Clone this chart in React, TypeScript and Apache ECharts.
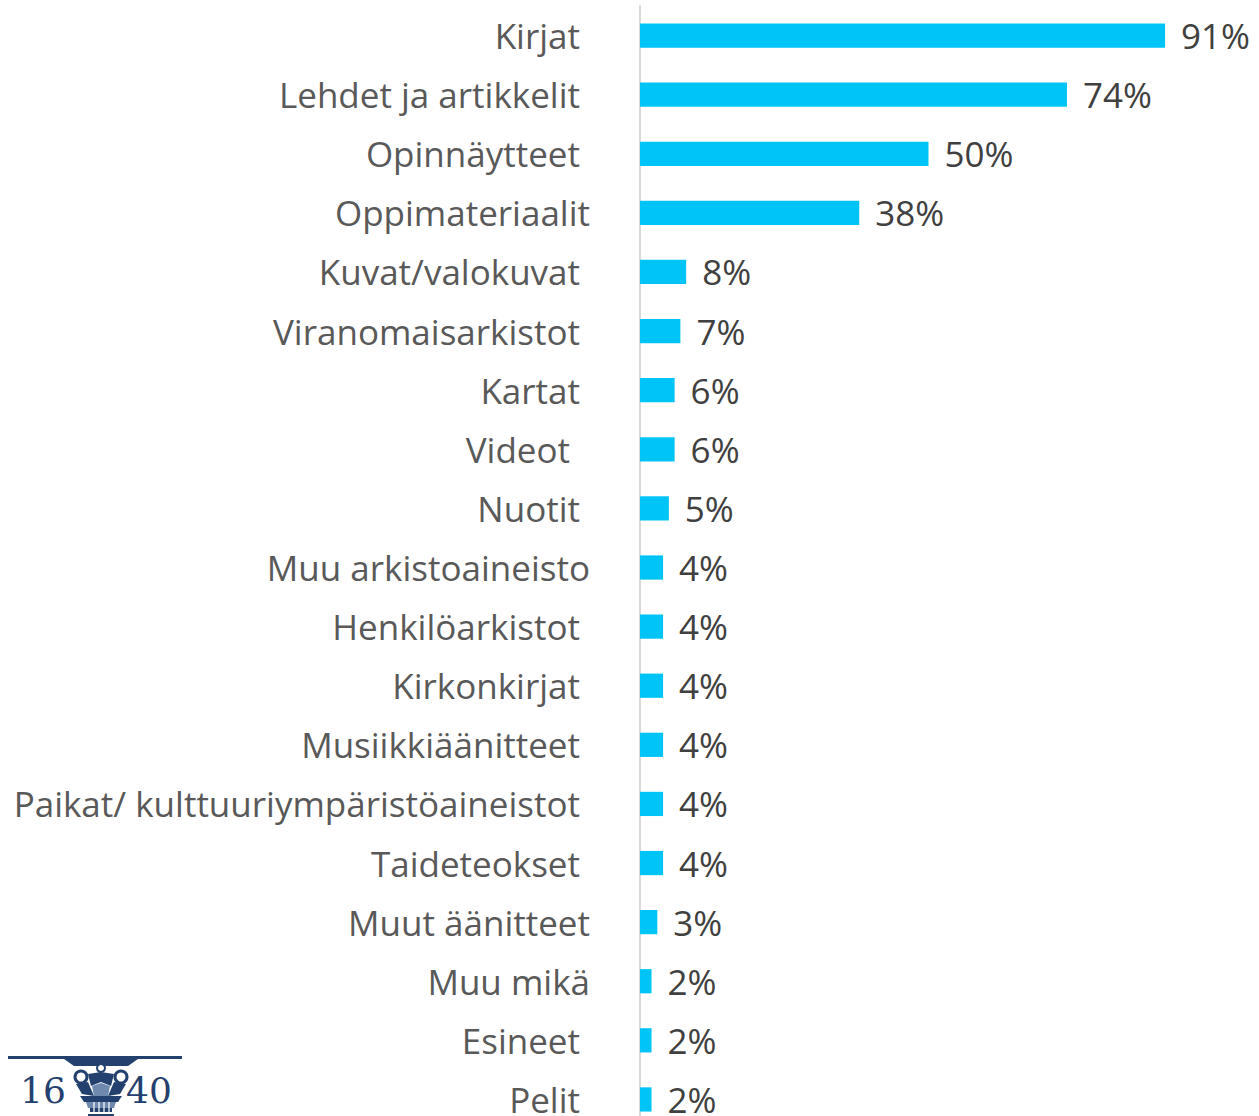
import React, { useEffect, useRef } from "react";
import * as echarts from "echarts";

const categories = [
  "Kirjat",
  "Lehdet ja artikkelit",
  "Opinnäytteet",
  "Oppimateriaalit",
  "Kuvat/valokuvat",
  "Viranomaisarkistot",
  "Kartat",
  "Videot",
  "Nuotit",
  "Muu arkistoaineisto",
  "Henkilöarkistot",
  "Kirkonkirjat",
  "Musiikkiäänitteet",
  "Paikat/ kulttuuriympäristöaineistot",
  "Taideteokset",
  "Muut äänitteet",
  "Muu mikä",
  "Esineet",
  "Pelit",
];
const values = [91, 74, 50, 38, 8, 7, 6, 6, 5, 4, 4, 4, 4, 4, 4, 3, 2, 2, 2];

// labels without the original's trailing space sit a little further right
const flushLabels = new Set(["Oppimateriaalit", "Muu arkistoaineisto", "Muut äänitteet", "Muu mikä"]);
const wideLabels = new Set(["Videot"]);

const FONT = "'Open Sans', 'Noto Sans', sans-serif";
const FS = 35;
const NAVY = "#23406e";
const LIGHT = "#6f88ae";

export default function App() {
  const ref = useRef<HTMLDivElement>(null);
  useEffect(() => {
    const chart = echarts.init(ref.current!, null, { renderer: "svg" });
    const rs = (pad: number) => ({ fontFamily: FONT, fontSize: FS, color: "#595959", padding: [0, pad, 0, 0] });
    chart.setOption({
      animation: false,
      backgroundColor: "#ffffff",
      grid: { left: 640, right: 42, top: 6, bottom: 11, containLabel: false },
      xAxis: { type: "value", min: 0, max: 100, show: false },
      yAxis: {
        type: "category",
        data: categories,
        inverse: true,
        axisLine: { show: true, lineStyle: { color: "#d9d9d9", width: 2 } },
        axisTick: { show: false },
        axisLabel: {
          margin: 50,
          fontFamily: FONT,
          fontSize: FS,
          color: "#595959",
          formatter: (v: string) =>
            flushLabels.has(v) ? `{a|${v}}` : wideLabels.has(v) ? `{c|${v}}` : `{b|${v}}`,
          rich: { a: rs(0), b: rs(10), c: rs(20) },
        },
      },
      series: [
        {
          type: "bar",
          data: values,
          barCategoryGap: "59%",
          itemStyle: { color: "#00c4f6" },
          label: {
            show: true,
            position: "right",
            distance: 16,
            formatter: "{c}%",
            fontFamily: FONT,
            fontSize: FS,
            color: "#404040",
          },
        },
      ],
      graphic: [
        {
          type: "group",
          left: 8,
          top: 1056,
          children: [
            { type: "rect", shape: { x: 0, y: 0, width: 174, height: 3 }, style: { fill: NAVY } },
            {
              type: "text",
              x: 12,
              y: 16,
              style: { text: "16", font: "36px 'DejaVu Serif', serif", fill: NAVY },
            },
            {
              type: "text",
              x: 118,
              y: 16,
              style: { text: "40", font: "36px 'DejaVu Serif', serif", fill: NAVY },
            },
            // capital abacus
            { type: "polygon", shape: { points: [[56, 3], [130, 3], [120, 10], [66, 10]] }, style: { fill: NAVY } },
            // rosette
            { type: "circle", shape: { cx: 93, cy: 12, r: 4 }, style: { fill: "#fff", stroke: NAVY, lineWidth: 2 } },
            // volutes
            { type: "circle", shape: { cx: 73, cy: 21, r: 6 }, style: { fill: "#fff", stroke: NAVY, lineWidth: 3 } },
            { type: "circle", shape: { cx: 113, cy: 21, r: 6 }, style: { fill: "#fff", stroke: NAVY, lineWidth: 3 } },
            // leaves
            { type: "polygon", shape: { points: [[80, 18], [93, 16], [106, 18], [103, 30], [93, 26], [83, 30]] }, style: { fill: NAVY } },
            { type: "polygon", shape: { points: [[68, 28], [80, 26], [86, 40], [74, 38]] }, style: { fill: NAVY } },
            { type: "polygon", shape: { points: [[118, 28], [106, 26], [100, 40], [112, 38]] }, style: { fill: NAVY } },
            { type: "polygon", shape: { points: [[84, 30], [93, 27], [102, 30], [100, 40], [86, 40]] }, style: { fill: LIGHT } },
            { type: "polygon", shape: { points: [[72, 40], [114, 40], [110, 46], [76, 46]] }, style: { fill: NAVY } },
            { type: "polygon", shape: { points: [[78, 46], [108, 46], [106, 52], [80, 52]] }, style: { fill: LIGHT } },
            { type: "rect", shape: { x: 82, y: 52, width: 22, height: 4 }, style: { fill: NAVY } },
            { type: "rect", shape: { x: 80, y: 58, width: 26, height: 2 }, style: { fill: NAVY } },
            { type: "rect", shape: { x: 82, y: 46, width: 22, height: 14 }, style: { fill: "none" } },
            { type: "line", shape: { x1: 86, y1: 46, x2: 86, y2: 56 }, style: { stroke: "#fff", lineWidth: 1.2 } },
            { type: "line", shape: { x1: 91, y1: 46, x2: 91, y2: 56 }, style: { stroke: "#fff", lineWidth: 1.2 } },
            { type: "line", shape: { x1: 96, y1: 46, x2: 96, y2: 56 }, style: { stroke: "#fff", lineWidth: 1.2 } },
            { type: "line", shape: { x1: 101, y1: 46, x2: 101, y2: 56 }, style: { stroke: "#fff", lineWidth: 1.2 } },
          ],
        },
      ],
    });
    return () => chart.dispose();
  }, []);
  return (
    <div style={{ position: "fixed", left: 0, top: 0, width: 1259, height: 1116, overflow: "hidden" }}>
      <div ref={ref} style={{ width: 1259, height: 1140 }} />
    </div>
  );
}
